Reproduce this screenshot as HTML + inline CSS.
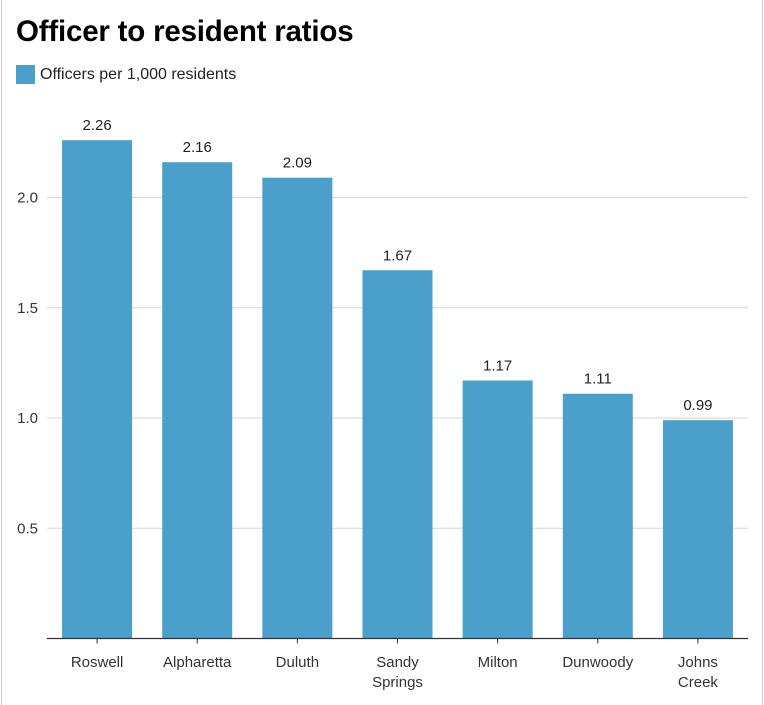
<!DOCTYPE html>
<html><head><meta charset="utf-8"><style>
body{margin:0;background:#fff;width:764px;height:705px;overflow:hidden;position:relative;font-family:"Liberation Sans",sans-serif}
#frame{position:absolute;left:1px;top:0;width:760px;height:705px;border-left:1px solid #ccc;border-right:1px solid #ccc}
h1{position:absolute;left:16px;top:15px;margin:0;font-size:29.5px;font-weight:bold;color:#000;letter-spacing:-0.2px}
#legend{position:absolute;left:16px;top:65px;font-size:16px;color:#222;display:flex;align-items:center}
#legend span.sw{width:19px;height:19px;background:#4aa0cb;margin-right:5px;display:inline-block}
svg{position:absolute;left:0;top:0}
</style></head><body>
<div id="frame"></div>
<h1>Officer to resident ratios</h1>
<div id="legend"><span class="sw"></span><span>Officers per 1,000 residents</span></div>
<svg id="chart" width="764" height="705"></svg>
<script>
const categories=[["Roswell"],["Alpharetta"],["Duluth"],["Sandy","Springs"],["Milton"],["Dunwoody"],["Johns","Creek"]];
const values=[2.26,2.16,2.09,1.67,1.17,1.11,0.99];
const valueLabels=["2.26","2.16","2.09","1.67","1.17","1.11","0.99"];
const ticks=[0.5,1.0,1.5,2.0];
const tickLabels=["0.5","1.0","1.5","2.0"];
const NS="http://www.w3.org/2000/svg";
const svg=document.getElementById('chart');
const x0=47,x1=748,y0=638.5,pxPerUnit=220.5;
const band=(x1-x0)/categories.length,barW=70;
const y=v=>y0-v*pxPerUnit;
const xc=i=>x0+band*i+band/2;
function mk(t,a){const e=document.createElementNS(NS,t);for(const k in a)e.setAttribute(k,a[k]);svg.appendChild(e);return e;}
ticks.forEach((t,i)=>{
 const g=mk('line',{x1:x0,x2:x1,y1:y(t),y2:y(t),stroke:'#d6d6d6','stroke-width':1});
 
 
 const l=mk('text',{x:38,y:y(t)+5,'text-anchor':'end','font-size':15,fill:'#333','font-family':'Liberation Sans, sans-serif'});
 l.textContent=tickLabels[i];
 
 
});
values.forEach((v,i)=>{
 const r=mk('rect',{x:xc(i)-barW/2,y:y(v),width:barW,height:y0-y(v),fill:'#4aa0cb'});
 
 
 const t=mk('text',{x:xc(i),y:y(v)-10,'text-anchor':'middle','font-size':15,fill:'#222','font-family':'Liberation Sans, sans-serif'});
 t.textContent=valueLabels[i];
 
 
 const tk=mk('line',{x1:xc(i),x2:xc(i),y1:y0,y2:y0+5,stroke:'#333','stroke-width':1});
 
 
 categories[i].forEach((w,j)=>{
  const c=mk('text',{x:xc(i),y:667+j*20,'text-anchor':'middle','font-size':15,fill:'#333','font-family':'Liberation Sans, sans-serif'});
  c.textContent=w;
  
  
 });
});
const ax=mk('line',{x1:x0,x2:x1,y1:y0,y2:y0,stroke:'#333','stroke-width':1.2});


</script>
</body></html>
